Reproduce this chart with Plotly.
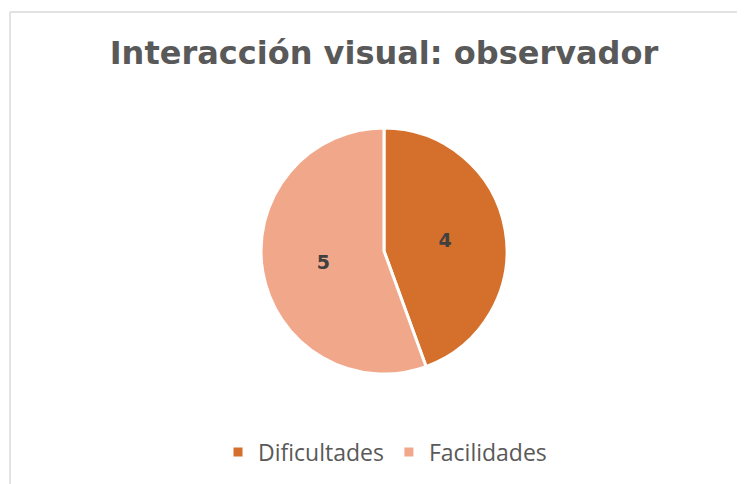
import plotly.graph_objects as go

categories = ["Dificultades", "Facilidades"]
values = [4, 5]
colors = ["#D4702B", "#F1A88A"]
title_text = "Interacción visual: observador"

W, H = 745, 484
OFF = 8  # page body margin offset
cx, cy, r = 384 - OFF, 251 - OFF, 123

fig = go.Figure(go.Pie(
    labels=categories,
    values=values,
    sort=False,
    direction="clockwise",
    rotation=0,
    marker=dict(colors=colors, line=dict(color="white", width=3)),
    textinfo="value",
    textposition="inside",
    insidetextorientation="horizontal",
    textfont=dict(family="DejaVu Sans", size=19, color="#404040", weight="bold"),
    hoverinfo="label+value",
    domain=dict(x=[(cx - r) / W, (cx + r) / W], y=[1 - (cy + r) / H, 1 - (cy - r) / H]),
))

fig.update_layout(
    width=W, height=H,
    margin=dict(l=0, r=0, t=0, b=0),
    paper_bgcolor="white",
    plot_bgcolor="white",
    title=dict(text="<b>" + title_text + "</b>", x=(384 - OFF) / W, xanchor="center",
               y=1 - (53 - OFF) / H, yanchor="middle",
               font=dict(family="DejaVu Sans", size=32, color="#595959")),
    legend=dict(orientation="h", x=(385 - OFF) / W, xanchor="center", y=1 - (452 - OFF) / H, yanchor="middle",
                font=dict(family="Open Sans", size=23, color="#595959"),
                itemwidth=30, traceorder="normal"),
    shapes=[
        dict(type="line", xref="paper", yref="paper", x0=(10 - OFF) / W, x1=1.0,
             y0=1 - (12 - OFF) / H, y1=1 - (12 - OFF) / H,
             line=dict(color="#D9D9D9", width=1.5)),
        dict(type="line", xref="paper", yref="paper", x0=(10 - OFF) / W, x1=(10 - OFF) / W,
             y0=0, y1=1 - (12 - OFF) / H,
             line=dict(color="#D9D9D9", width=1.5)),
    ],
)

fig.write_html("out.html")
